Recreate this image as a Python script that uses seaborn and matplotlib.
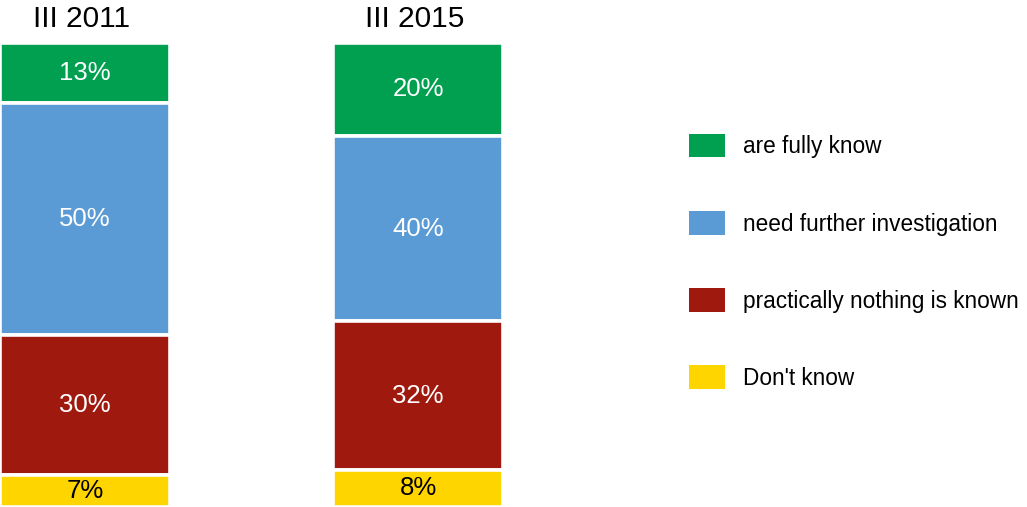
import matplotlib
matplotlib.use("Agg")
import matplotlib.pyplot as plt
import matplotlib.patches as mpatches
import seaborn as sns

# Survey data: share of answers per wave
years = ["III 2011", "III 2015"]
categories = ["are fully know", "need further investigation",
              "practically nothing is known", "Don't know"]
fully_known = [13, 20]
further_investigation = [50, 40]
nothing_known = [30, 32]
dont_know = [7, 8]

colors = ["#00A050", "#5B9BD5", "#A0190F", "#FFD500"]
text_colors = ["white", "white", "white", "black"]

sns.set_theme(style="white")
plt.rcParams["font.family"] = ["Liberation Sans", "DejaVu Sans"]
plt.rcParams["text.color"] = "black"

fig = plt.figure(figsize=(10.27, 5.07), dpi=100)
ax = fig.add_axes([0, 0, 1, 464 / 507])

# stack from the top down: green on top, yellow at the bottom
layers = [fully_known, further_investigation, nothing_known, dont_know]
bottoms = [0, 0]
stacked = []
for vals in reversed(layers):
    stacked.append((vals, list(bottoms)))
    bottoms = [b + v for b, v in zip(bottoms, vals)]
stacked = stacked[::-1]

for (vals, bot), col, tcol in zip(stacked, colors, text_colors):
    sns.barplot(x=years, y=vals, bottom=bot, color=col, saturation=1,
                width=0.51, edgecolor="white", linewidth=2.6, ax=ax)
    for i, (v, b) in enumerate(zip(vals, bot)):
        ax.text(i, b + v / 2, f"{v}%", ha="center", va="center",
                color=tcol, fontsize=18.5)

# wave titles above the bars
for i, yr in enumerate(years):
    ax.text(i - 0.01, 103.4, yr, ha="center", va="baseline", fontsize=21.5,
            color="black", clip_on=False)

ax.set_xlim(-0.2555, -0.2555 + 1027 / 333)
ax.set_ylim(0, 100)
ax.axis("off")

handles = [mpatches.Patch(facecolor=c, edgecolor="none", label=l)
           for c, l in zip(colors, categories)]
leg = fig.legend(handles=handles, loc="upper left",
                 bbox_to_anchor=(689 / 1027, 1 - 134 / 507),
                 frameon=False, fontsize=16.3, borderpad=0, borderaxespad=0,
                 handlelength=1.6, handleheight=1.22, handletextpad=0.8,
                 labelspacing=2.33)
for t in leg.get_texts():
    t.set_color("black")

fig.savefig("out.png", dpi=100)
